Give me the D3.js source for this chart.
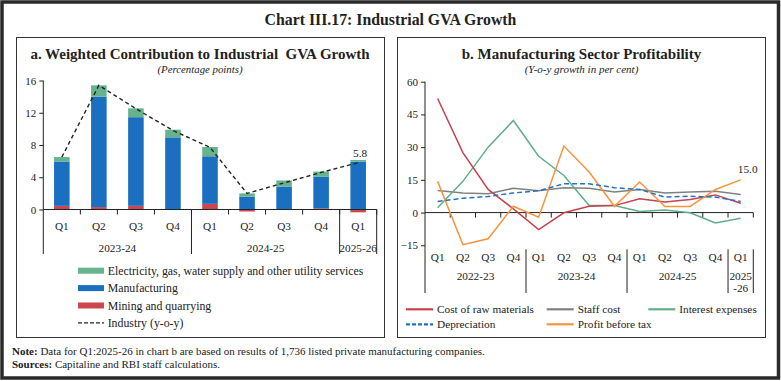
<!DOCTYPE html>
<html><head><meta charset="utf-8">
<script src="https://cdn.jsdelivr.net/npm/d3@7/dist/d3.min.js"></script>
<style>
body{margin:0;background:#fff;}
text{font-family:"Liberation Serif","DejaVu Serif",serif;fill:#222;}
</style></head>
<body>
<svg id="c" width="781" height="381"></svg>
<script>
// ---------- Panel a data ----------
const quartersA = ["Q1","Q2","Q3","Q4","Q1","Q2","Q3","Q4","Q1"];
const yearsA = [{label:"2023-24",from:0,to:4},{label:"2024-25",from:4,to:8},{label:"2025-26",from:8,to:9}];
const mining = [0.45, 0.3, 0.45, 0.05, 0.7, -0.25, -0.05, 0.15, -0.35];
const manufacturing = [5.5, 13.7, 11.0, 8.9, 5.9, 1.6, 2.85, 3.9, 5.95];
const electricity = [0.55, 1.4, 1.1, 0.95, 1.15, 0.4, 0.75, 0.65, 0.2];
const industry = [6.5, 15.4, 12.5, 9.8, 7.7, 2.0, 3.3, 4.6, 5.8];
const ticksA = [0, 4, 8, 12, 16];

// ---------- Panel b data ----------
const quartersB = ["Q1","Q2","Q3","Q4","Q1","Q2","Q3","Q4","Q1","Q2","Q3","Q4","Q1"];
const yearsB = [{label:["2022-23"],from:0,to:4},{label:["2023-24"],from:4,to:8},{label:["2024-25"],from:8,to:12},{label:["2025","-26"],from:12,to:13}];
const rawMaterials = [52.3, 27.5, 10.6, 1.7, -7.8, -0.1, 2.9, 3.2, 6.3, 4.8, 6.0, 8.1, 4.3];
const staffCost = [10.1, 9.0, 8.6, 11.2, 10.0, 11.4, 11.2, 9.4, 10.6, 9.0, 9.4, 9.8, 8.3];
const interestExp = [2.2, 14.3, 30.0, 42.2, 25.8, 17.0, 3.2, 3.2, 0.5, 1.2, -0.1, -4.8, -2.6];
const depreciation = [5.1, 6.6, 7.4, 9.0, 10.0, 13.2, 13.2, 11.4, 10.6, 7.1, 7.5, 7.1, 5.1];
const profitBT = [14.3, -14.7, -12.0, 2.9, -2.1, 30.5, 18.6, 2.9, 14.0, 2.8, 2.8, 10.6, 15.0];
const ticksB = [-15, 0, 15, 30, 45, 60];

const C = {elec:"#66b48e", mfg:"#1a6fc0", mining:"#cc4650", raw:"#c9404e", staff:"#808080", interest:"#5fae8a", dep:"#1f72c4", pbt:"#f7943c"};

const svg = d3.select("#c");
svg.append("rect").attr("width",781).attr("height",381).attr("fill","#fff");
svg.append("rect").attr("x",2).attr("y",2).attr("width",776.5).attr("height",376).attr("fill","none").attr("stroke","#2a2a2a").attr("stroke-width",3.5);

svg.append("text").attr("x",390.5).attr("y",19).attr("dy","0.35em").attr("text-anchor","middle")
  .attr("font-size",15.8).attr("font-weight","bold").text("Chart III.17: Industrial GVA Growth");

// panel boxes
svg.append("rect").attr("x",16.5).attr("y",37.5).attr("width",368).attr("height",300).attr("fill","none").attr("stroke","#333").attr("stroke-width",1);
svg.append("rect").attr("x",397.5).attr("y",37.5).attr("width",368).attr("height",300).attr("fill","none").attr("stroke","#333").attr("stroke-width",1);

// ================= Panel a =================
const ga = svg.append("g");
ga.append("text").attr("x",200).attr("y",54).attr("dy","0.35em").attr("text-anchor","middle").attr("font-size",15).attr("font-weight","bold")
  .text("a. Weighted Contribution to Industrial\u00a0 GVA Growth");
ga.append("text").attr("x",200).attr("y",69).attr("dy","0.35em").attr("text-anchor","middle").attr("font-size",10.8).attr("font-style","italic")
  .text("(Percentage points)");

const xA = d3.scaleBand().domain(d3.range(quartersA.length)).range([43.3,376.7]).paddingInner(0.58).paddingOuter(0.29);
const yA = d3.scaleLinear().domain([0,16]).range([209.5,80.5]);
const stepA = xA.step();
const x0A = 43.3;

// bars (mining from zero, manufacturing and utilities stacked above the positive part)
mining.forEach((v,i)=>{
  const x = xA(i), w = xA.bandwidth();
  ga.append("rect").attr("x",x).attr("width",w).attr("y",yA(Math.max(0,v))).attr("height",Math.abs(yA(v)-yA(0))).attr("fill",C.mining);
  const base = Math.max(0,v);
  ga.append("rect").attr("x",x).attr("width",w).attr("y",yA(base+manufacturing[i])).attr("height",yA(base)-yA(base+manufacturing[i])).attr("fill",C.mfg);
  const b2 = base+manufacturing[i];
  ga.append("rect").attr("x",x).attr("width",w).attr("y",yA(b2+electricity[i])).attr("height",yA(b2)-yA(b2+electricity[i])).attr("fill",C.elec);
});

// y axis
const yAxA = d3.axisLeft(yA).tickValues(ticksA).tickSize(4).tickPadding(3).tickFormat(d3.format("d"));
const gya = ga.append("g").attr("transform",`translate(${x0A},0)`).call(yAxA);
gya.select(".domain").remove();
gya.selectAll("line").attr("stroke","#222");
gya.selectAll("text").attr("font-size",11).style("font-family","Liberation Serif").attr("fill","#222");
ga.append("line").attr("x1",x0A).attr("x2",x0A).attr("y1",yA(16)).attr("y2",254).attr("stroke","#222");

// x axis line + ticks + separators
ga.append("line").attr("x1",x0A).attr("x2",376.7).attr("y1",yA(0)).attr("y2",yA(0)).attr("stroke","#222");
d3.range(1,quartersA.length+1).forEach(k=>{
  const xx = x0A + k*stepA;
  ga.append("line").attr("x1",xx).attr("x2",xx).attr("y1",yA(0)).attr("y2",yA(0)+5).attr("stroke","#222");
});
yearsA.forEach(yr=>{
  const xx = x0A + yr.to*stepA;
  ga.append("line").attr("x1",xx).attr("x2",xx).attr("y1",yA(0)).attr("y2",254).attr("stroke","#222");
  ga.append("text").attr("x",x0A+(yr.from+yr.to)/2*stepA).attr("y",247.7).attr("dy","0.35em").attr("text-anchor","middle").attr("font-size",11.3).text(yr.label);
});
quartersA.forEach((q,i)=>{
  ga.append("text").attr("x",xA(i)+xA.bandwidth()/2).attr("y",226.5).attr("dy","0.35em").attr("text-anchor","middle").attr("font-size",11.3).text(q);
});

// industry line
const lineA = d3.line().x((d,i)=>xA(i)+xA.bandwidth()/2).y(d=>yA(d));
ga.append("path").datum(industry).attr("d",lineA).attr("fill","none").attr("stroke","#222").attr("stroke-width",1.4).attr("stroke-dasharray","4,3");
ga.append("text").attr("x",xA(8)+xA.bandwidth()/2+2).attr("y",yA(industry[8])-10).attr("dy","0.35em").attr("text-anchor","middle").attr("font-size",11.3).attr("fill","#333")
  .text(d3.format(".1f")(industry[8]));

// legend a
const legA = [
  {t:"Electricity, gas, water supply and other utility services", c:C.elec, type:"rect"},
  {t:"Manufacturing", c:C.mfg, type:"rect"},
  {t:"Mining and quarrying", c:C.mining, type:"rect"},
  {t:"Industry (y-o-y)", c:"#222", type:"dash"}
];
legA.forEach((d,i)=>{
  const yy = 270.7 + i*17.4;
  if(d.type==="rect") ga.append("rect").attr("x",78).attr("y",yy-3).attr("width",26).attr("height",6).attr("fill",d.c);
  else ga.append("line").attr("x1",78).attr("x2",104).attr("y1",yy).attr("y2",yy).attr("stroke",d.c).attr("stroke-width",1.4).attr("stroke-dasharray","4,2");
  ga.append("text").attr("x",107.7).attr("y",yy).attr("dy","0.35em").attr("font-size",11.8).text(d.t);
});

// ================= Panel b =================
const gb = svg.append("g");
gb.append("text").attr("x",581.5).attr("y",54).attr("dy","0.35em").attr("text-anchor","middle").attr("font-size",15).attr("font-weight","bold")
  .text("b. Manufacturing Sector Profitability");
gb.append("text").attr("x",581.5).attr("y",69).attr("dy","0.35em").attr("text-anchor","middle").attr("font-size",11).attr("font-style","italic")
  .text("(Y-o-y growth in per cent)");

const x0B = 425, x1B = 753.3;
const xB = d3.scalePoint().domain(d3.range(quartersB.length)).range([x0B,x1B]).padding(0.5);
const stepB = (x1B-x0B)/quartersB.length;
const yB = d3.scaleLinear().domain([-15,60]).range([245.3,81.7]);

const yAxB = d3.axisLeft(yB).tickValues(ticksB).tickSize(4).tickPadding(3).tickFormat(d3.format("d"));
const gyb = gb.append("g").attr("transform",`translate(${x0B},0)`).call(yAxB);
gyb.select(".domain").remove();
gyb.selectAll("line").attr("stroke","#222");
gyb.selectAll("text").attr("font-size",11).style("font-family","Liberation Serif").attr("fill","#222");
gb.append("line").attr("x1",x0B).attr("x2",x0B).attr("y1",yB(60)).attr("y2",293).attr("stroke","#222");
gb.append("line").attr("x1",x0B).attr("x2",x1B).attr("y1",yB(0)).attr("y2",yB(0)).attr("stroke","#222");
d3.range(1,quartersB.length+1).forEach(k=>{
  const xx = x0B + k*stepB;
  gb.append("line").attr("x1",xx).attr("x2",xx).attr("y1",yB(0)).attr("y2",yB(0)+5).attr("stroke","#222");
});
yearsB.forEach(yr=>{
  const xx = x0B + yr.to*stepB;
  gb.append("line").attr("x1",xx).attr("x2",xx).attr("y1",yB(-15)+4).attr("y2",293).attr("stroke","#222");
  yr.label.forEach((l,j)=>{
    gb.append("text").attr("x",x0B+(yr.from+yr.to)/2*stepB).attr("y",276+j*12.3).attr("dy","0.35em").attr("text-anchor","middle").attr("font-size",11.3).text(l);
  });
});
quartersB.forEach((q,i)=>{
  gb.append("text").attr("x",xB(i)).attr("y",256.7).attr("dy","0.35em").attr("text-anchor","middle").attr("font-size",11.3).text(q);
});

const lineB = d3.line().x((d,i)=>xB(i)).y(d=>yB(d));
const seriesB = [
  {v:staffCost, c:C.staff, dash:null},
  {v:interestExp, c:C.interest, dash:null},
  {v:rawMaterials, c:C.raw, dash:null},
  {v:profitBT, c:C.pbt, dash:null},
  {v:depreciation, c:C.dep, dash:"5,3"}
];
seriesB.forEach(s=>{
  gb.append("path").datum(s.v).attr("d",lineB).attr("fill","none").attr("stroke",s.c).attr("stroke-width",1.5).attr("stroke-dasharray",s.dash);
});
gb.append("text").attr("x",xB(12)+7).attr("y",yB(profitBT[12])-11).attr("dy","0.35em").attr("text-anchor","middle").attr("font-size",11.3).attr("fill",C.pbt)
  .text(d3.format(".1f")(profitBT[12]));

// legend b
const legB = [
  {t:"Cost of raw materials", c:C.raw, x:406, y:309.3},
  {t:"Staff cost", c:C.staff, x:546.7, y:309.3},
  {t:"Interest expenses", c:C.interest, x:648.3, y:309.3},
  {t:"Depreciation", c:C.dep, x:406, y:324.3, dash:"4,2"},
  {t:"Profit before tax", c:C.pbt, x:546.7, y:324.3}
];
legB.forEach(d=>{
  gb.append("line").attr("x1",d.x).attr("x2",d.x+27).attr("y1",d.y).attr("y2",d.y).attr("stroke",d.c).attr("stroke-width",2.2).attr("stroke-dasharray",d.dash||null);
  gb.append("text").attr("x",d.x+31).attr("y",d.y).attr("dy","0.35em").attr("font-size",11.3).text(d.t);
});

// notes
const n1 = svg.append("text").attr("x",12).attr("y",350.7).attr("dy","0.35em").attr("font-size",11);
n1.append("tspan").attr("font-weight","bold").text("Note:");
n1.append("tspan").text(" Data for Q1:2025-26 in chart b are based on results of 1,736 listed private manufacturing companies.");
const n2 = svg.append("text").attr("x",12).attr("y",364).attr("dy","0.35em").attr("font-size",11);
n2.append("tspan").attr("font-weight","bold").text("Sources:");
n2.append("tspan").text(" Capitaline and RBI staff calculations.");
</script>
</body></html>
